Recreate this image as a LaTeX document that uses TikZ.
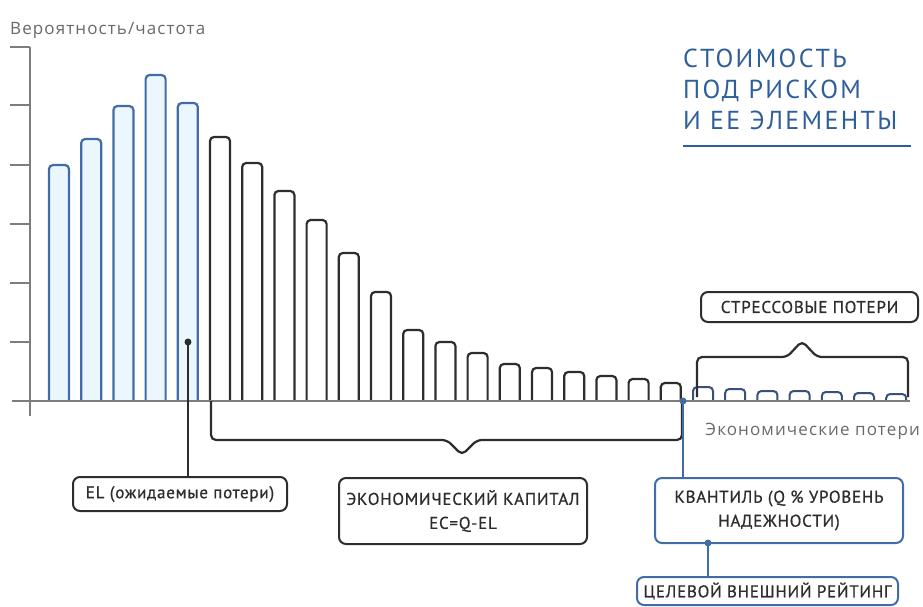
\documentclass[tikz,border=0pt]{standalone}
\usepackage{fontspec}
\setmainfont{PT Sans}
\newfontfamily\graysans[LetterSpace=6.5]{Open Sans}
\newfontfamily\boxfont[LetterSpace=4.5,FakeBold=0.8]{PT Sans}
\newfontfamily\titlefont[LetterSpace=9]{PT Sans}
\definecolor{tblue}{RGB}{47,95,155}
\definecolor{bblue}{RGB}{66,108,165}
\definecolor{sblue}{RGB}{55,80,125}
\definecolor{lblue}{RGB}{236,246,253}
\definecolor{dgray}{RGB}{45,45,45}
\definecolor{agray}{RGB}{125,125,125}
\definecolor{tgray}{RGB}{105,105,105}
\begin{document}
\begin{tikzpicture}[x=1pt,y=-1pt,
  bluebar/.style={draw=bblue,fill=lblue,line width=2.2pt,rounded corners=4pt},
  blackbar/.style={draw=dgray,line width=2.2pt,rounded corners=4pt},
  stressbar/.style={draw=sblue,line width=2pt,rounded corners=4pt},
  axisline/.style={draw=agray,line width=1.6pt},
  bracepath/.style={draw=dgray,line width=2.2pt,rounded corners=5pt},
  box/.style={draw=dgray,line width=2pt,rounded corners=7pt,text=dgray,align=center,inner sep=0pt,font=\boxfont\fontsize{17}{24}\selectfont},
  bluebox/.style={box,draw=bblue},
  graylabel/.style={text=tgray,font=\graysans\fontsize{17}{19}\selectfont,inner sep=0pt},
  titletext/.style={text=tblue,font=\titlefont\fontsize{26}{30}\selectfont,inner sep=0pt,anchor=base west}]
\useasboundingbox (0,0) rectangle (923,606);
% bars
\foreach \t [count=\i from 0] in {165,139,106,75,103}
  \draw[bluebar] ({49+32.2*\i},401) -- ({49+32.2*\i},\t) -- ({69+32.2*\i},\t) -- ({69+32.2*\i},401);
\foreach \t [count=\i from 5] in {137,163,191,220,253,292,330,342,353,364,368,372,376,379,383}
  \draw[blackbar] ({49+32.2*\i},401) -- ({49+32.2*\i},\t) -- ({69+32.2*\i},\t) -- ({69+32.2*\i},401);
\foreach \t [count=\i from 20] in {387,389,391,391,392,393,394}
  \draw[stressbar] ({49+32.2*\i},401) -- ({49+32.2*\i},\t) -- ({69+32.2*\i},\t) -- ({69+32.2*\i},401);
% axes
\draw[axisline] (30,47) -- (30,416);
\foreach \y in {47,105,165,224,283,342}
  \draw[axisline] (10,\y) -- (30,\y);
\draw[axisline] (12,401) -- (910,401);
\node[graylabel,anchor=base west] (ylab) at (10,34) {Вероятность/частота};
\node[graylabel,anchor=base east] (xlab) at (920,435) {Экономические потери};
% title
\node[titletext] (t1) at (683,67) {СТОИМОСТЬ};
\node[titletext] (t2) at (683,98) {ПОД РИСКОМ};
\node[titletext] (t3) at (683,129) {И ЕЕ ЭЛЕМЕНТЫ};
\draw[tblue,line width=2pt] (683,146) -- (911,146);
% braces
\coordinate (ecL) at (211,401);
\coordinate (ecR) at (682,401);
\draw[bracepath] (ecL) -- (211,440) -- (447,440) -- (462,455) -- (477,440) -- (682,440) -- (ecR);
\draw[bracepath] (697,397) -- (697,357) -- (787,357) -- (802,341) -- (817,357) -- (908,357) -- (908,397);
% boxes
\node[box,minimum width=217pt,minimum height=30pt] (stress) at (809.5,307) {СТРЕССОВЫЕ ПОТЕРИ};
\node[box,minimum width=214pt,minimum height=34pt] (el) at (180,494) {EL (ожидаемые потери)};
\node[box,minimum width=248pt,minimum height=66pt] (ec) at (463,511) {ЭКОНОМИЧЕСКИЙ КАПИТАЛ\\EC=Q-EL};
\node[bluebox,minimum width=248pt,minimum height=65pt] (q) at (779,510.5) {КВАНТИЛЬ (Q \% УРОВЕНЬ\\НАДЕЖНОСТИ)};
\node[bluebox,minimum width=261pt,minimum height=28pt] (tr) at (767.5,591) {ЦЕЛЕВОЙ ВНЕШНИЙ РЕЙТИНГ};
% connectors
\coordinate (eldot) at (188,342);
\draw[dgray,line width=2pt] (eldot) -- (eldot |- el.north);
\fill[dgray] (eldot) circle (3.5pt);
\coordinate (qdot) at (683,401);
\draw[bblue,line width=1.2pt] (qdot) -- (qdot |- q.north);
\fill[bblue] (qdot) circle (3.5pt);
\coordinate (qb) at (708,543);
\draw[bblue,line width=2pt] (qb) -- (qb |- tr.north);
\fill[bblue] (qb) circle (3.5pt);
\end{tikzpicture}
\end{document}
